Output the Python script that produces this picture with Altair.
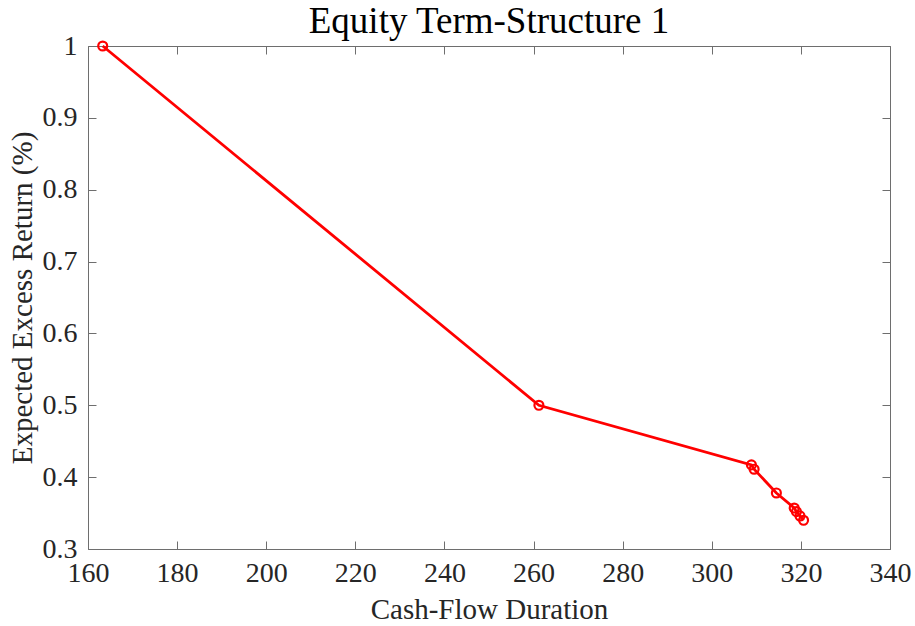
import altair as alt
import pandas as pd

duration = [163.3, 261.2, 308.9, 309.5, 314.5, 318.5, 319.0, 319.8, 320.6]
excess_return = [1.0, 0.5, 0.417, 0.411, 0.378, 0.357, 0.352, 0.346, 0.340]
x_ticks = [160, 180, 200, 220, 240, 260, 280, 300, 320, 340]
y_ticks = [0.3, 0.4, 0.5, 0.6, 0.7, 0.8, 0.9, 1.0]

df = pd.DataFrame({"dur": duration, "ret": excess_return})

FONT = "Liberation Serif"
AX = "#262626"
DOM = "#6e6e6e"
RED = "#ff0000"

xs = alt.Scale(domain=[160, 340], nice=False, zero=False)
ys = alt.Scale(domain=[0.3, 1.0], nice=False, zero=False)

common = dict(grid=False, domainColor=DOM, tickColor=DOM, domainWidth=1, tickWidth=1,
              tickSize=alt.ExprRef(expr="-8"), labelFlush=False)

x_bottom = alt.Axis(values=x_ticks, title="Cash-Flow Duration", labelFont=FONT, titleFont=FONT,
                    labelFontSize=28, titleFontSize=29, labelColor=AX, titleColor=AX,
                    titleFontWeight="normal", labelPadding=18, titlePadding=8, orient="bottom", **common)
y_left = alt.Axis(values=y_ticks, title="Expected Excess Return (%)", format=".1~f", labelFont=FONT,
                  titleFont=FONT, labelFontSize=28, titleFontSize=29, labelColor=AX, titleColor=AX,
                  titleFontWeight="normal", labelPadding=19, titlePadding=5, orient="left", **common)
x_top = alt.Axis(values=x_ticks, title=None, labels=False, orient="top", **common)
y_right = alt.Axis(values=y_ticks, title=None, labels=False, orient="right", **common)

base = alt.Chart(df)
line = base.mark_line(color=RED, strokeWidth=2.8).encode(
    x=alt.X("dur:Q", scale=xs, axis=x_bottom),
    y=alt.Y("ret:Q", scale=ys, axis=y_left),
)
pts = base.mark_point(shape="circle", filled=False, color=RED, size=80, strokeWidth=2.2, opacity=1).encode(
    x=alt.X("dur:Q", scale=xs, axis=x_top),
    y=alt.Y("ret:Q", scale=ys, axis=y_right),
)

chart = alt.layer(line, pts).resolve_scale(x="independent", y="independent").resolve_axis(
    x="independent", y="independent"
).properties(
    width=802, height=503,
    title=alt.TitleParams("Equity Term-Structure 1", font=FONT, fontSize=37, fontWeight="normal",
                          color="black", anchor="middle", offset=-9),
    autosize=alt.AutoSizeParams(type="none"),
    padding={"left": 88, "top": 46, "right": 25, "bottom": 77},
).configure_view(stroke=None).configure(background="white")

chart.save("out.html", embed_options={"renderer": "svg", "actions": False})
